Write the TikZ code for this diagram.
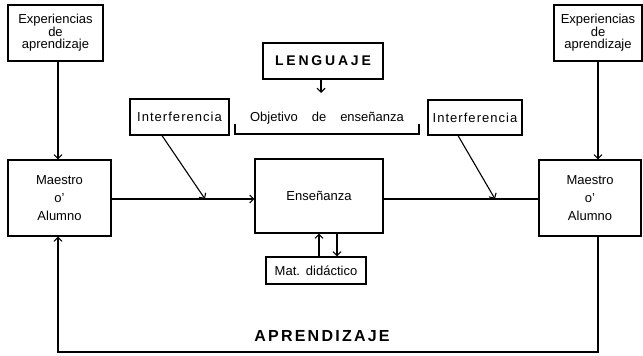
\documentclass[tikz,border=0pt]{standalone}
\usepackage{fontspec}
\setmainfont{Liberation Sans}
\usetikzlibrary{arrows.meta,calc}
\begin{document}
\begin{tikzpicture}[x=1pt,y=-1pt,line width=1.1pt,
  txt/.style={font=\fontsize{13}{12}\selectfont},
  box/.style={draw,inner sep=0pt,align=center,txt},
  mbox/.style={draw,inner sep=0pt,align=center,font=\fontsize{13}{18}\selectfont},
  ibox/.style={draw,inner sep=0pt,align=center,font=\fontsize{13}{15}\selectfont\addfontfeatures{LetterSpace=8}},
  arr/.style={-{Straight Barb[length=4pt,width=8pt]}}]
\useasboundingbox (0,0) rectangle (643,356);
% boxes
\node[box,minimum width=95pt,minimum height=56pt] (LE) at (55.5,33) {Experiencias\\de\\aprendizaje};
\node[box,minimum width=88pt,minimum height=56pt] (RE) at (598,33) {Experiencias\\de\\aprendizaje};
\node[mbox,minimum width=103pt,minimum height=76pt] (LM) at (59.5,198) {Maestro\\o'\\Alumno};
\node[mbox,minimum width=102pt,minimum height=76pt] (RM) at (590,198) {Maestro\\o'\\Alumno};
\node[ibox,minimum width=99pt,minimum height=36pt] (IL) at (179.5,117) {Interferencia};
\node[ibox,minimum width=94pt,minimum height=35pt] (IR) at (475,117.5) {Interferencia};
\node[draw,inner sep=0pt,minimum width=120pt,minimum height=36pt,font=\fontsize{14}{16}\selectfont\bfseries\addfontfeatures{LetterSpace=20}] (LG) at (323,61) {LENGUAJE};
\node[box,minimum width=128pt,minimum height=74pt] (EN) at (319,196) {Enseñanza};
\node[box,minimum width=100pt,minimum height=27pt] (MD) at (316,270.5) {Mat.\hspace{6pt}didáctico};
\node[txt] (OB) at (327,118) {Objetivo\hspace{14pt}de\hspace{14pt}enseñanza};
\node[font=\fontsize{16}{18}\selectfont\bfseries\addfontfeatures{LetterSpace=14}] (AP) at (322,336) {APRENDIZAJE};
% helper coordinates
\coordinate (bl) at (235,124);
\coordinate (blb) at (235,134);
\coordinate (br) at (419,124);
\coordinate (brb) at (419,134);
\coordinate (lgt) at (321,93);
\coordinate (lx) at (58,0);
\coordinate (rx) at (598,0);
\coordinate (hy) at (0,199);
\coordinate (by) at (0,352);
\coordinate (ils) at (162,0);
\coordinate (ile) at (205,0);
\coordinate (irs) at (458,0);
\coordinate (ire) at (495,0);
\coordinate (ux) at (319,0);
\coordinate (dx) at (337,0);
% bracket
\draw (bl) -- (blb) -- (brb) -- (br);
% connectors
\draw[arr] (LG.south -| lgt) -- (lgt);
\draw[arr] (LE.south -| lx) -- (LM.north -| lx);
\draw[arr] (RE.south -| rx) -- (RM.north -| rx);
\draw[arr] (LM.east |- hy) -- (EN.west |- hy);
\draw (EN.east |- hy) -- (RM.west |- hy);
\draw[arr] (IL.south -| ils) -- (ile |- hy);
\draw[arr] (IR.south -| irs) -- (ire |- hy);
\draw[arr] (MD.north -| ux) -- (EN.south -| ux);
\draw[arr] (EN.south -| dx) -- (MD.north -| dx);
\draw[arr] (RM.south -| rx) -- (rx |- by) -- (lx |- by) -- (LM.south -| lx);
\end{tikzpicture}
\end{document}
